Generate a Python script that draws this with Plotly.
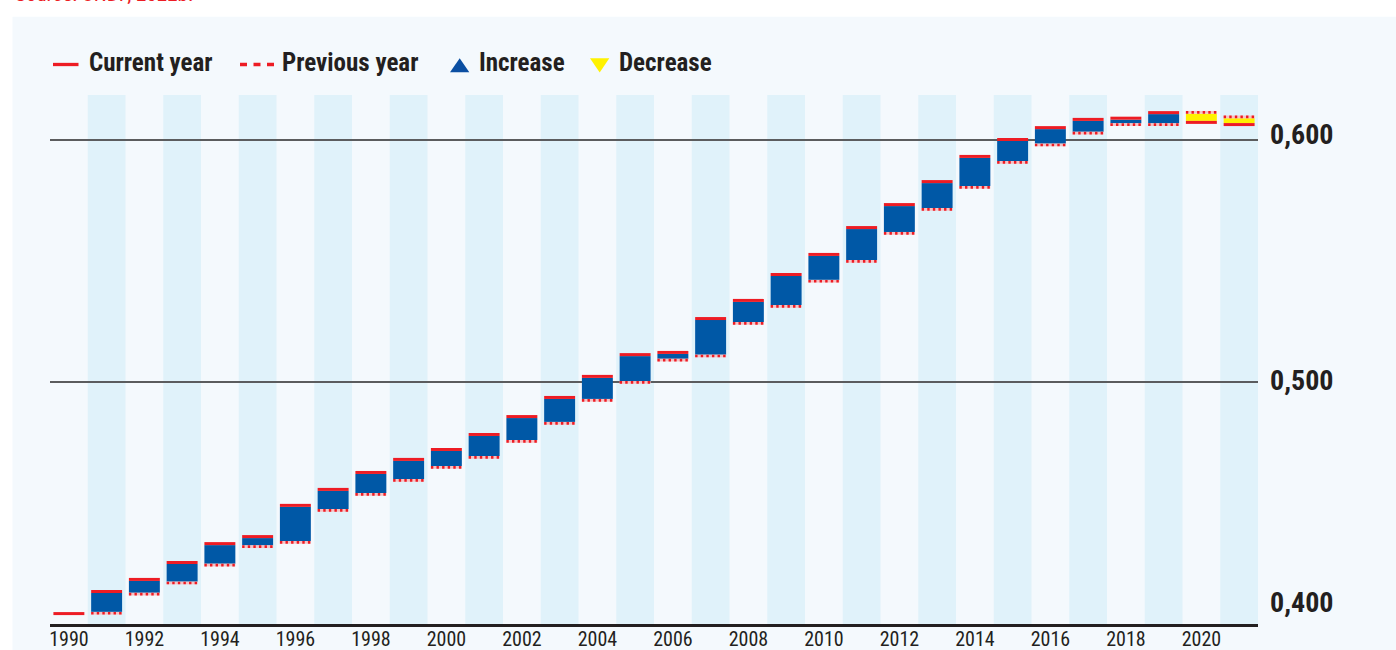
import plotly.graph_objects as go

# ---------------- data ----------------
years = list(range(1990, 2022))
current = [0.4043, 0.4128, 0.4178, 0.4248, 0.4326, 0.4355, 0.4484, 0.4550,
           0.4620, 0.4674, 0.4715, 0.4777, 0.4851, 0.4930, 0.5017, 0.5107,
           0.5116, 0.5256, 0.5331, 0.5438, 0.5521, 0.5632, 0.5727, 0.5822,
           0.5926, 0.5996, 0.6045, 0.6079, 0.6084, 0.6107, 0.6079, 0.6070]
previous = [None, 0.4050, 0.4129, 0.4175, 0.4249, 0.4325, 0.4343, 0.4475,
            0.4541, 0.4599, 0.4653, 0.4694, 0.4760, 0.4835, 0.4930, 0.5004,
            0.5096, 0.5113, 0.5248, 0.5318, 0.5422, 0.5504, 0.5620, 0.5719,
            0.5810, 0.5913, 0.5985, 0.6034, 0.6069, 0.6069, 0.6109, 0.6090]
x_tick_years = list(range(1990, 2021, 2))
y_grid_values = [0.5, 0.6]
y_label_values = [0.4, 0.5, 0.6]
y_label_texts = ["0,400", "0,500", "0,600"]
legend_labels = ["Current year", "Previous year", "Increase", "Decrease"]
source_text = "Source: UNDP, 2022b."

# ---------------- layout constants ----------------
W, H = 1396, 650
ML, MR, MT, MB = 50, 138, 95, 26
PW, PH = W - ML - MR, H - MT - MB
Y_RANGE = [0.4, 0.6186]
X_RANGE = [1989.5, 2021.5]
PX_PER_UNIT = PH / (Y_RANGE[1] - Y_RANGE[0])
T = 3.0 / PX_PER_UNIT          # thickness of the solid "current year" line
BAR_W = 0.82

BLUE = "#0058a6"
TRI_BLUE = "#0b4fa2"
YELLOW = "#fff200"
RED = "#ed1c24"
PINK = "#f6c3c6"
INK = "#231f20"
PANEL = "#f4f9fd"
BAND = "#e0f2fa"
GRID = "#5b5c5e"
NARROW = "Roboto Condensed, Liberation Sans Narrow, Roboto, sans-serif"


def px_x(px):
    return (px - ML) / PW


def px_y(py):
    return (H - MB - py) / PH


# ---------------- build traces from data ----------------
inc_x, inc_base, inc_h = [], [], []
dec_x, dec_base, dec_h = [], [], []
sol_x, sol_base, sol_h = [], [], []
dot_x, dot_y = [], []
for yr, c, p in zip(years, current, previous):
    if p is None:
        sol_x.append(yr); sol_base.append(c - T / 2); sol_h.append(T)
        continue
    if c >= p:
        inc_x.append(yr); inc_base.append(p); inc_h.append(c - p)
        sol_x.append(yr); sol_base.append(c); sol_h.append(T)
        yd = p - T * 0.45
    else:
        dec_x.append(yr); dec_base.append(c); dec_h.append(p - c)
        sol_x.append(yr); sol_base.append(c - T); sol_h.append(T)
        yd = p + T * 0.45
    dot_x += [yr - BAR_W / 2, yr + BAR_W / 2, None]
    dot_y += [yd, yd, None]

fig = go.Figure()
fig.add_trace(go.Bar(x=inc_x, y=inc_h, base=inc_base, width=BAR_W,
                     marker=dict(color=BLUE, line=dict(width=0)),
                     name=legend_labels[2], showlegend=False))
fig.add_trace(go.Bar(x=dec_x, y=dec_h, base=dec_base, width=BAR_W,
                     marker=dict(color=YELLOW, line=dict(width=0)),
                     name=legend_labels[3], showlegend=False))
fig.add_trace(go.Bar(x=sol_x, y=sol_h, base=sol_base, width=BAR_W,
                     marker=dict(color=RED, line=dict(width=0)),
                     name=legend_labels[0], showlegend=False))
fig.add_trace(go.Scatter(x=dot_x, y=dot_y, mode="lines",
                         line=dict(color=PINK, width=2.7),
                         hoverinfo="skip", showlegend=False))
fig.add_trace(go.Scatter(x=dot_x, y=dot_y, mode="lines",
                         line=dict(color=RED, width=2.7, dash="2.4px,3.2px"),
                         name=legend_labels[1], showlegend=False))

# ---------------- shapes ----------------
shapes = [
    dict(type="rect", xref="paper", yref="paper", layer="below",
         x0=px_x(12.5), x1=px_x(W + 5), y0=px_y(H + 5), y1=px_y(16.7),
         fillcolor=PANEL, line=dict(width=0)),
]
for yr in years:
    if yr % 2 == 1:
        shapes.append(dict(type="rect", xref="x", yref="y domain", layer="below",
                           x0=yr - 0.5, x1=yr + 0.5, y0=0, y1=1,
                           fillcolor=BAND, line=dict(width=0)))

# legend icons
ly = px_y(64.5)
shapes.append(dict(type="line", xref="paper", yref="paper",
                   x0=px_x(53), x1=px_x(78.5), y0=ly, y1=ly,
                   line=dict(color=RED, width=3.3)))
shapes.append(dict(type="line", xref="paper", yref="paper",
                   x0=px_x(240), x1=px_x(274), y0=ly, y1=ly,
                   line=dict(color=RED, width=3.3, dash="7px,6.5px")))
shapes.append(dict(type="path", xref="paper", yref="paper",
                   path="M {:.5f},{:.5f} L {:.5f},{:.5f} L {:.5f},{:.5f} Z".format(
                       px_x(450), px_y(72.3), px_x(469.3), px_y(72.3), px_x(459.7), px_y(58.3)),
                   fillcolor=TRI_BLUE, line=dict(width=0)))
shapes.append(dict(type="path", xref="paper", yref="paper",
                   path="M {:.5f},{:.5f} L {:.5f},{:.5f} L {:.5f},{:.5f} Z".format(
                       px_x(590), px_y(58.3), px_x(609.3), px_y(58.3), px_x(599.7), px_y(72.5)),
                   fillcolor=YELLOW, line=dict(width=0)))

# ---------------- annotations ----------------
annotations = []
legend_text_x = [87, 280, 477, 617]
for txt, xp in zip(legend_labels, legend_text_x):
    annotations.append(dict(text=txt, xref="paper", yref="paper",
                            x=px_x(xp), y=px_y(62), xanchor="left", yanchor="middle",
                            showarrow=False,
                            font=dict(family=NARROW, size=25, color=INK, weight="bold")))

label_shift = {0.4: 22, 0.5: 2, 0.6: 6}
for v, txt in zip(y_label_values, y_label_texts):
    annotations.append(dict(text=txt, xref="paper", yref="y", x=1, y=v,
                            xanchor="left", yanchor="middle", xshift=10,
                            yshift=label_shift[v], showarrow=False,
                            font=dict(family=NARROW, size=28, color=INK, weight="bold")))

annotations.append(dict(text=source_text, xref="paper", yref="paper",
                        x=px_x(12.7), y=px_y(7.5), xanchor="left", yanchor="bottom",
                        showarrow=False,
                        font=dict(family=NARROW, size=21, color=RED)))

fig.update_layout(
    template="none",
    width=W, height=H,
    margin=dict(l=ML, r=MR, t=MT, b=MB, pad=0),
    paper_bgcolor="white",
    plot_bgcolor=PANEL,
    barmode="overlay",
    showlegend=False,
    shapes=shapes,
    annotations=annotations,
    xaxis=dict(range=X_RANGE, tickmode="array", tickvals=x_tick_years,
               ticktext=[str(y) for y in x_tick_years], ticks="", showgrid=False,
               zeroline=False, showline=True, linecolor=INK, linewidth=3,
               tickfont=dict(family=NARROW, size=20, color=INK),
               ticklabelstandoff=-5,
               automargin=False, fixedrange=True),
    yaxis=dict(range=Y_RANGE, tickmode="array", tickvals=y_grid_values,
               showticklabels=False, ticks="", showgrid=True, gridcolor=GRID,
               gridwidth=1.8, zeroline=False, showline=False,
               automargin=False, fixedrange=True),
)

fig.write_html("out.html",
               config={"displayModeBar": False},
               post_script="document.body.style.margin='0px';document.body.style.overflow='hidden';")
